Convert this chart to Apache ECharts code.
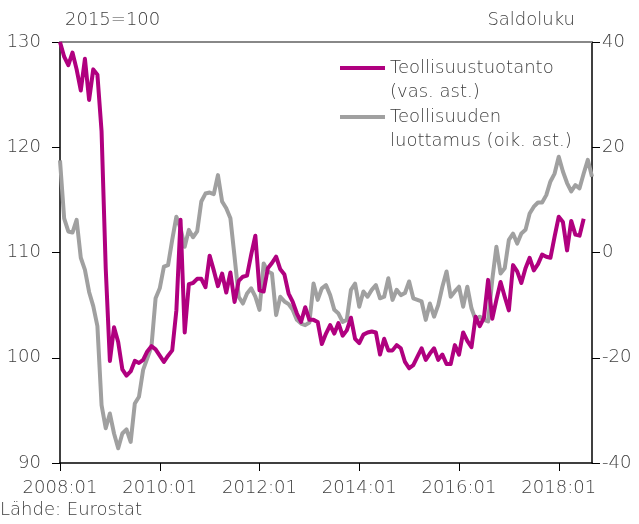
<!DOCTYPE html>
<html>
<head>
<meta charset="utf-8">
<script src="https://cdn.jsdelivr.net/npm/echarts@6/dist/echarts.min.js"></script>
<style>
html,body{margin:0;padding:0;background:#fff;}
#chart{width:639px;height:524px;}
</style>
</head>
<body>
<div id="chart"></div>
<script>
// Months 2008:01 .. 2018:09
const startYear = 2008;
const monthCount = 129;
const months = [];
for (let i = 0; i < monthCount; i++) {
  const y = startYear + Math.floor(i / 12);
  const m = (i % 12) + 1;
  months.push(y + ':' + (m < 10 ? '0' + m : '' + m));
}

// Teollisuustuotanto, 2015=100 (left axis), 2008:01 .. 2018:07
const industrialProduction = [
  130.0, 128.6, 127.8, 129.0, 127.4, 125.4, 128.4, 124.5, 127.4, 126.9, 121.5, 108.5,
  99.7, 102.9, 101.5, 98.9, 98.3, 98.7, 99.7, 99.5, 99.8, 100.6, 101.1, 100.8,
  100.2, 99.6, 100.2, 100.7, 104.5, 113.1, 102.4, 107.0, 107.1, 107.5, 107.5, 106.7,
  109.7, 108.3, 106.8, 108.0, 106.2, 108.1, 105.3, 107.3, 107.7, 107.8, 109.8, 111.6,
  106.4, 106.3, 108.5, 109.0, 109.6, 108.4, 107.9, 106.1, 105.3, 104.2, 103.4, 104.8,
  103.6, 103.6, 103.4, 101.3, 102.3, 103.1, 102.3, 103.3, 102.1, 102.6, 103.8, 101.8,
  101.4, 102.2, 102.4, 102.5, 102.4, 100.3, 101.8, 100.7, 100.7, 101.2, 100.9, 99.6,
  99.0, 99.3, 100.1, 100.9, 99.8, 100.4, 100.9, 99.8, 100.3, 99.4, 99.4, 101.2,
  100.3, 102.4, 101.6, 101.0, 103.9, 103.0, 103.8, 107.4, 103.7, 105.5, 107.2, 105.8,
  104.5, 108.8, 108.2, 107.1, 108.5, 109.5, 108.3, 108.9, 109.8, 109.6, 109.5, 111.5,
  113.4, 112.9, 110.2, 113.0, 111.7, 111.6, 113.2
];

// Teollisuuden luottamus, saldoluku (right axis), 2008:01 .. 2018:09
const industrialConfidence = [
  17.5, 6.5, 4.0, 3.8, 6.2, -1.0, -3.3, -7.5, -10.2, -14.0, -29.0, -33.4,
  -30.6, -34.4, -37.2, -34.4, -33.6, -36.0, -28.7, -27.4, -22.3, -20.1, -17.9, -8.7,
  -6.8, -2.7, -2.4, 2.4, 6.8, 4.6, 1.1, 4.3, 2.9, 4.0, 9.7, 11.2,
  11.4, 11.1, 14.7, 9.7, 8.4, 6.5, -0.8, -8.4, -9.7, -7.8, -6.8, -8.4,
  -10.9, -2.1, -3.6, -4.0, -11.9, -8.4, -9.3, -9.8, -10.9, -12.8, -13.5, -13.8,
  -13.3, -5.9, -9.0, -6.8, -6.2, -8.1, -10.9, -11.6, -13.2, -12.8, -7.1, -5.9,
  -10.3, -7.4, -8.4, -7.1, -6.2, -8.7, -8.4, -4.9, -9.0, -7.1, -8.1, -7.7,
  -5.5, -8.7, -9.0, -9.3, -12.8, -9.7, -12.2, -10.0, -6.5, -3.6, -8.4, -7.4,
  -6.5, -10.3, -6.5, -10.6, -12.8, -12.2, -12.8, -13.1, -5.2, 1.1, -4.0, -3.0,
  2.4, 3.6, 1.7, 3.6, 4.3, 7.4, 8.7, 9.5, 9.5, 10.9, 13.5, 15.0,
  18.2, 15.4, 13.2, 11.6, 12.8, 12.2, 15.0, 17.6, 14.4
];

const leftTicks = [90, 100, 110, 120, 130];
const rightTicks = [-40, -20, 0, 20, 40];
const seriesNames = ['Teollisuustuotanto', 'Teollisuuden luottamus'];

const FONT = '"DejaVu Sans", "Open Sans", sans-serif';
const TXT = '#404040';
const MAGENTA = '#B0007F';
const GREY = '#A0A0A0';

const chart = echarts.init(document.getElementById('chart'), null, {renderer: 'canvas'});
chart.setOption({
  animation: false,
  backgroundColor: '#fff',
  grid: {left: 60, right: 47, top: 42, bottom: 61, containLabel: false},
  xAxis: [{
    type: 'category',
    data: months,
    boundaryGap: false,
    axisLine: {show: true, onZero: false, lineStyle: {color: '#000', width: 1.5}},
    axisTick: {show: true, length: 8, interval: (i) => i % 24 === 0, lineStyle: {color: '#000', width: 1}},
    axisLabel: {interval: (i) => i % 24 === 0, color: TXT, fontSize: 18, fontFamily: FONT, fontWeight: 200, margin: 16},
    splitLine: {show: false}
  }, {
    type: 'category',
    data: months,
    position: 'top',
    boundaryGap: false,
    axisLine: {show: true, onZero: false, lineStyle: {color: '#888', width: 2}},
    axisTick: {show: false},
    axisLabel: {show: false},
    splitLine: {show: false}
  }],
  yAxis: [{
    type: 'value',
    min: leftTicks[0], max: leftTicks[leftTicks.length - 1], interval: 10,
    position: 'left',
    axisLine: {show: true, lineStyle: {color: '#000', width: 1.5}},
    axisTick: {show: true, length: 8, lineStyle: {color: '#000'}},
    axisLabel: {color: TXT, fontSize: 18, fontFamily: FONT, fontWeight: 200, margin: 19},
    splitLine: {show: false}
  }, {
    type: 'value',
    min: rightTicks[0], max: rightTicks[rightTicks.length - 1], interval: 20,
    position: 'right',
    axisLine: {show: true, lineStyle: {color: '#000', width: 1.5}},
    axisTick: {show: true, length: 8, lineStyle: {color: '#000'}},
    axisLabel: {color: TXT, fontSize: 18, fontFamily: FONT, fontWeight: 200, margin: 10},
    splitLine: {show: false}
  }],
  series: [{
    name: seriesNames[1],
    type: 'line',
    xAxisIndex: 0,
    yAxisIndex: 1,
    data: industrialConfidence,
    showSymbol: false,
    lineStyle: {color: GREY, width: 4, join: 'round'},
    itemStyle: {color: GREY},
    z: 2
  }, {
    name: seriesNames[0],
    type: 'line',
    xAxisIndex: 0,
    yAxisIndex: 0,
    data: industrialProduction,
    showSymbol: false,
    lineStyle: {color: MAGENTA, width: 4, join: 'round'},
    itemStyle: {color: MAGENTA},
    z: 3
  }],
  graphic: [
    {type: 'text', left: 65, top: 11, style: {text: '2015=100', fill: TXT, font: '200 18px ' + FONT}},
    {type: 'text', right: 64, top: 11, style: {text: 'Saldoluku', fill: TXT, font: '200 18px ' + FONT}},
    {type: 'text', left: 0, top: 501, style: {text: 'Lähde: Eurostat', fill: TXT, font: '200 18px ' + FONT}},
    {type: 'line', shape: {x1: 340, y1: 68, x2: 385, y2: 68}, style: {stroke: MAGENTA, lineWidth: 4}},
    {type: 'text', left: 390, top: 56, style: {text: 'Teollisuustuotanto\n(vas. ast.)', fill: TXT, font: '200 18px ' + FONT, lineHeight: 24}},
    {type: 'line', shape: {x1: 340, y1: 117, x2: 385, y2: 117}, style: {stroke: GREY, lineWidth: 4}},
    {type: 'text', left: 390, top: 105, style: {text: 'Teollisuuden\nluottamus (oik. ast.)', fill: TXT, font: '200 18px ' + FONT, lineHeight: 24}}
  ]
});
</script>
</body>
</html>
